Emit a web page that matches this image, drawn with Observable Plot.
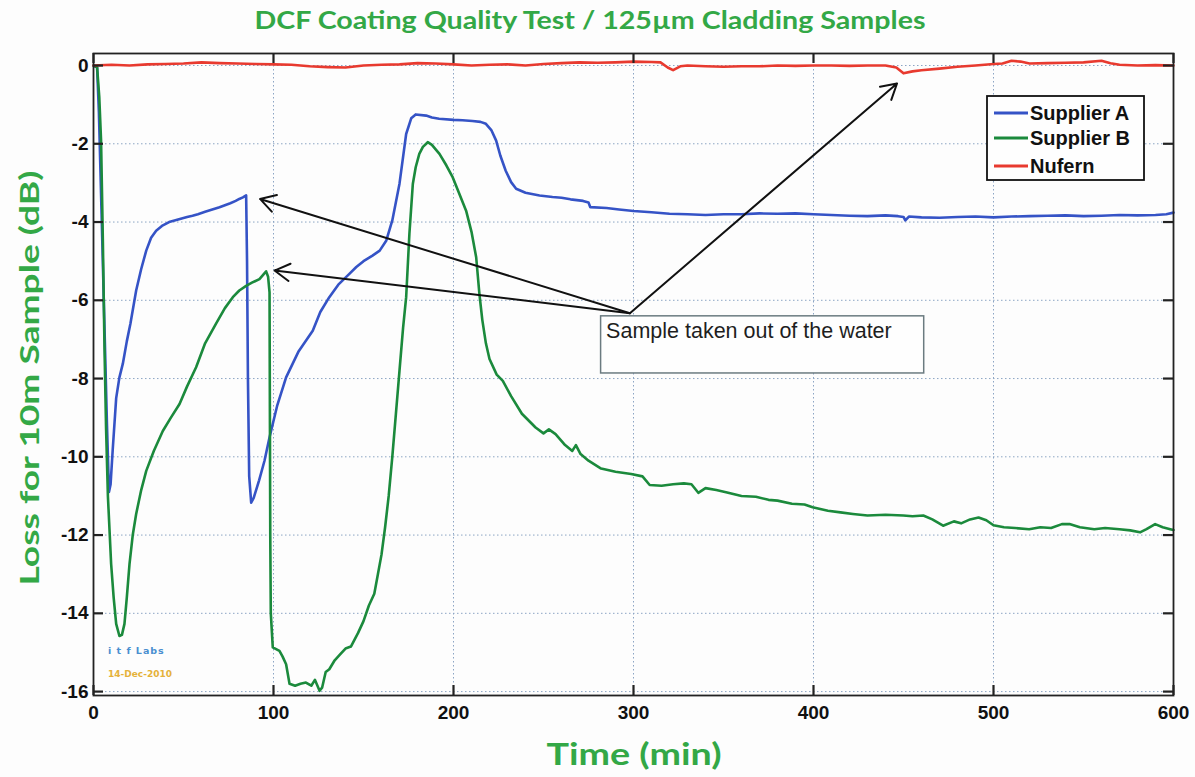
<!DOCTYPE html>
<html>
<head>
<meta charset="utf-8">
<script src="https://cdn.jsdelivr.net/npm/d3@7"></script>
<script src="https://cdn.jsdelivr.net/npm/@observablehq/plot@0.6"></script>
<style>
  html, body { margin: 0; padding: 0; background: #fdfdfd; }
  #wrap { position: relative; width: 1195px; height: 777px; background: #fdfdfd; overflow: hidden; }
  #plot { position: absolute; left: 0; top: 40px; }
  #overlay { position: absolute; left: 0; top: 0; pointer-events: none; }
</style>
</head>
<body>
<div id="wrap">
  <div id="plot"></div>
  <svg id="overlay" width="1195" height="777"></svg>
</div>
<script>
// ---------------- data ----------------
const seriesNames = ["Supplier A", "Supplier B", "Nufern"];
const seriesColors = ["#3553c6", "#1b8a3c", "#e83a2f"];

const timeA = [0,2,3,4.5,6,7.5,8.6,9.5,10.7,12.6,14.4,16.3,18.5,20.5,23.7,26.5,29.3,32,34.8,38,42,45,48,52,55,58,62,66,70,73,76,79,81,83,84.8,85.3,85.8,86.5,87.6,89,92,95,97.8,102,107,114,121.8,126,131,136,142,146,150,155,159,162.6,166,170,173.7,176.5,179,184.8,188,192,200,205,210.5,215,218,221,223.7,226,229,232,234.8,240,247.8,255,260,265,272,275,276,285,292,300,310,320,330,340,350,360,370,380,390,400,410,420,430,440,447,450,451,453,460,470,480,490,500,510,520,530,540,550,560,570,580,590,596,600];
const lossA = [0,-0.05,-1.2,-3.8,-6.5,-9.2,-10.9,-10.7,-9.8,-8.5,-7.97,-7.62,-7.05,-6.6,-5.75,-5.2,-4.73,-4.4,-4.22,-4.1,-4.0,-3.96,-3.92,-3.87,-3.84,-3.8,-3.74,-3.68,-3.62,-3.57,-3.52,-3.46,-3.41,-3.37,-3.32,-5.0,-8.0,-10.5,-11.17,-11.05,-10.6,-10.1,-9.5,-8.7,-7.97,-7.3,-6.78,-6.3,-5.92,-5.6,-5.33,-5.15,-5.0,-4.86,-4.73,-4.48,-3.96,-3.02,-1.75,-1.35,-1.25,-1.28,-1.33,-1.36,-1.39,-1.4,-1.42,-1.44,-1.49,-1.65,-1.92,-2.3,-2.69,-2.98,-3.15,-3.25,-3.32,-3.36,-3.38,-3.42,-3.46,-3.5,-3.62,-3.64,-3.68,-3.72,-3.75,-3.79,-3.8,-3.82,-3.8,-3.8,-3.78,-3.79,-3.78,-3.8,-3.82,-3.84,-3.85,-3.83,-3.85,-3.87,-3.96,-3.86,-3.88,-3.89,-3.87,-3.86,-3.88,-3.86,-3.85,-3.84,-3.83,-3.85,-3.84,-3.82,-3.83,-3.82,-3.8,-3.76];

const timeB = [0,2,3.2,4.2,5.2,6.1,7,8,9.8,11.2,12.6,14.4,15.8,17.2,18.5,20,21.8,23.7,26.5,29.3,33.5,38.5,43,47.8,52,57,62,68,73,77.4,81,84.8,88,92.2,95.9,97,97.8,98,98.2,98.5,99.6,103.3,105,107,108.9,112,115,118,121,123,125.6,127,129,131,134,137,140,143,147,150,153,156,158,160,162,164,166,168,170,172,173.7,175.5,177.4,179,181,183,185.7,188,192.2,196,199.6,203,207,210,212.6,214.4,216,218,220,224,227.4,232,238,245.6,250,253,256.7,262,266,268,270.6,275,282,290,298.7,305,309,315.6,322,328,332.2,336,340,346,352,360,368,375,380,388,395,399.5,408,415,421.9,430,440,449.9,455,461,466,472,478,482,487,491.7,496,500,505.8,512,519.8,526,532,538,542.2,548,556,562,570,576,581.4,585,589.8,594,598.2,600];
const lossB = [0,-0.05,-0.8,-1.92,-4.48,-7.2,-9.3,-11.0,-12.74,-13.6,-14.27,-14.58,-14.55,-14.27,-13.6,-12.74,-12.0,-11.46,-10.85,-10.36,-9.85,-9.34,-9.0,-8.65,-8.2,-7.71,-7.1,-6.6,-6.2,-5.92,-5.75,-5.63,-5.55,-5.46,-5.26,-5.4,-5.8,-9.0,-12.0,-14.0,-14.87,-14.96,-15.1,-15.3,-15.8,-15.85,-15.8,-15.77,-15.85,-15.7,-15.98,-15.9,-15.5,-15.43,-15.2,-15.05,-14.9,-14.85,-14.5,-14.2,-13.8,-13.5,-13.0,-12.5,-11.8,-11.0,-10.0,-8.9,-7.8,-6.7,-5.92,-4.3,-3.03,-2.6,-2.26,-2.08,-1.96,-2.03,-2.26,-2.55,-2.86,-3.25,-3.71,-4.25,-4.9,-5.84,-6.5,-7.1,-7.5,-7.9,-8.06,-8.45,-8.9,-9.25,-9.4,-9.3,-9.42,-9.7,-9.85,-9.7,-9.93,-10.1,-10.3,-10.38,-10.44,-10.5,-10.72,-10.74,-10.7,-10.68,-10.7,-10.92,-10.8,-10.85,-10.91,-11.0,-11.02,-11.1,-11.12,-11.2,-11.22,-11.29,-11.38,-11.42,-11.46,-11.5,-11.48,-11.5,-11.52,-11.5,-11.6,-11.76,-11.65,-11.7,-11.6,-11.55,-11.62,-11.75,-11.8,-11.82,-11.85,-11.8,-11.82,-11.72,-11.72,-11.8,-11.85,-11.82,-11.85,-11.88,-11.93,-11.85,-11.72,-11.8,-11.85,-11.87];

const timeN = [0,10,20,30,40,50,60,70,80,90,100,110,120,130,140,150,160,170,180,190,200,210,220,230,240,250,260,270,280,290,300,310,315,319,322,326,330,340,350,360,370,380,390,400,410,420,430,440,446,450,455,460,470,480,490,500,505,510,515,520,530,540,550,560,565,570,580,590,600];
const lossN = [0,0.02,0.0,0.03,0.04,0.05,0.08,0.06,0.05,0.04,0.03,0.02,-0.02,-0.04,-0.05,0.0,0.02,0.03,0.06,0.05,0.03,0.0,0.02,0.03,0.0,0.04,0.06,0.08,0.07,0.08,0.1,0.09,0.08,-0.05,-0.12,-0.02,0.0,-0.02,-0.03,-0.02,-0.02,0.0,-0.01,0.0,0.0,-0.01,0.0,0.0,-0.05,-0.2,-0.15,-0.12,-0.08,-0.03,0.0,0.04,0.05,0.12,0.1,0.05,0.06,0.07,0.08,0.12,0.06,0.02,0.0,0.01,0.0];

const xTicks = [0,100,200,300,400,500,600];
const yTicks = [0,-2,-4,-6,-8,-10,-12,-14,-16];

// annotation: "Sample taken out of the water" (time, dB)
const annoText = "Sample taken out of the water";
const arrowFrom = [298, -6.33];
const arrowTips = [[92.5, -3.41], [100.6, -5.24], [446.4, -0.46]];
const annoBox = {t1: 282, t2: 461.5, v1: -6.41, v2: -7.87};

// ---------------- build ----------------
const rows = [];
[[timeA, lossA], [timeB, lossB], [timeN, lossN]].forEach(([ts, vs], i) => {
  ts.forEach((t, j) => rows.push({series: seriesNames[i], time: t, loss: vs[j]}));
});
const arrows = arrowTips.map(([t, v]) => ({x1: arrowFrom[0], y1: arrowFrom[1], x2: t, y2: v}));

const W = 1195, H = 737;
const mL = 93, mR = 22, mT = 13, mB = 82;
const pw = W - mL - mR, ph = H - mT - mB;
const tickLen = 10;

const chart = Plot.plot({
  width: W, height: H,
  marginLeft: mL, marginRight: mR, marginTop: mT, marginBottom: mB,
  style: {background: "#fdfdfd", fontFamily: "'Liberation Sans', Arial, sans-serif", overflow: "visible"},
  x: {domain: [0, 600], ticks: xTicks},
  y: {domain: [-16.1, 0.307], ticks: yTicks},
  color: {domain: seriesNames, range: seriesColors},
  marks: [
    Plot.gridX(xTicks, {stroke: "#8ca5c4", strokeOpacity: 1, strokeWidth: 1, strokeDasharray: "1.5,2.5"}),
    Plot.gridY(yTicks, {stroke: "#8ca5c4", strokeOpacity: 1, strokeWidth: 1, strokeDasharray: "1.5,2.5"}),
    Plot.line(rows, {x: "time", y: "loss", z: "series", stroke: "series", strokeWidth: 2.6, curve: "linear"}),
    // annotation box and text
    Plot.rect([annoBox], {x1: "t1", x2: "t2", y1: "v1", y2: "v2", fill: "#fefefe", stroke: "#6b7b80", strokeWidth: 1.5}),
    Plot.text([annoText], {x: annoBox.t1, y: annoBox.v1, text: d => d, textAnchor: "start", lineAnchor: "top", dx: 5, dy: 6, fontSize: 21.5, fill: "#1e1e1e", fontFamily: "'Liberation Sans', Arial, sans-serif"}),
    Plot.arrow(arrows, {x1: "x1", y1: "y1", x2: "x2", y2: "y2", stroke: "#111", strokeWidth: 2, headLength: 13, bend: 0}),
    // inward ticks
    Plot.ruleY(yTicks, {stroke: "#222", strokeWidth: 2.2, insetRight: pw - tickLen}),
    Plot.ruleY(yTicks, {stroke: "#222", strokeWidth: 2.2, insetLeft: pw - tickLen}),
    Plot.ruleX(xTicks, {stroke: "#222", strokeWidth: 2.2, insetTop: ph - tickLen}),
    Plot.ruleX(xTicks, {stroke: "#222", strokeWidth: 2.2, insetBottom: ph - tickLen}),
    Plot.frame({stroke: "#222", strokeWidth: 1.8}),
    Plot.axisY(yTicks, {tickSize: 0, tickPadding: 5, fontSize: 19, fontWeight: "bold", fill: "#111", label: null, tickFormat: d => String(d)}),
    Plot.axisX(xTicks, {tickSize: 0, tickPadding: 10, fontSize: 19, fontWeight: "bold", fill: "#111", label: null, tickFormat: d => String(d)})
  ]
});
document.getElementById("plot").appendChild(chart);

// ---------------- overlay: title, axis labels, legend, watermark ----------------
const ov = d3.select("#overlay");
const green = "#33a846";
const labelFont = "Lato, 'Open Sans', sans-serif";

ov.append("text").attr("x", 590).attr("y", 29).attr("text-anchor", "middle")
  .attr("font-family", labelFont).attr("font-weight", "bold").attr("font-size", 25)
  .attr("fill", green).attr("textLength", 671).attr("lengthAdjust", "spacingAndGlyphs")
  .text("DCF Coating Quality Test / 125µm Cladding Samples");

ov.append("text").attr("transform", "translate(39,378) rotate(-90)").attr("text-anchor", "middle")
  .attr("font-family", labelFont).attr("font-weight", "bold").attr("font-size", 27)
  .attr("fill", green).attr("textLength", 415).attr("lengthAdjust", "spacingAndGlyphs")
  .text("Loss for 10m Sample (dB)");

ov.append("text").attr("x", 634).attr("y", 765).attr("text-anchor", "middle")
  .attr("font-family", labelFont).attr("font-weight", "bold").attr("font-size", 30)
  .attr("fill", green).attr("textLength", 175).attr("lengthAdjust", "spacingAndGlyphs")
  .text("Time (min)");

// legend
const lg = ov.append("g");
lg.append("rect").attr("x", 987).attr("y", 96).attr("width", 157).attr("height", 84)
  .attr("fill", "#fefefe").attr("stroke", "#111").attr("stroke-width", 1.8);
seriesNames.forEach((name, i) => {
  const cy = [113, 138, 166][i];
  lg.append("line").attr("x1", 994).attr("x2", 1028).attr("y1", cy).attr("y2", cy)
    .attr("stroke", seriesColors[i]).attr("stroke-width", 3);
  lg.append("text").attr("x", 1030).attr("y", cy + 7).attr("font-family", "'Liberation Sans', Arial, sans-serif")
    .attr("font-weight", "bold").attr("font-size", 20).attr("fill", "#111").text(name);
});

// watermark
ov.append("text").attr("x", 108).attr("y", 654).attr("font-family", "'DejaVu Sans', sans-serif")
  .attr("font-weight", "bold").attr("font-size", 9.5).attr("fill", "#4a8fd0").attr("letter-spacing", 1)
  .text("i t f  Labs");
ov.append("text").attr("x", 108).attr("y", 677).attr("font-family", "'DejaVu Sans', sans-serif")
  .attr("font-weight", "bold").attr("font-size", 9).attr("fill", "#e5b23a")
  .text("14-Dec-2010");
</script>
</body>
</html>
